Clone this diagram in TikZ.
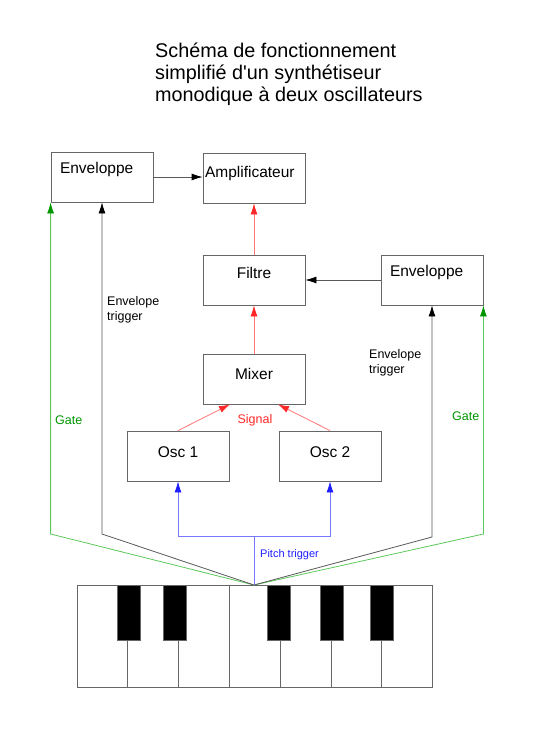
\documentclass[tikz,border=0pt]{standalone}
\usepackage{fontspec}
\setmainfont{Liberation Sans}
\usetikzlibrary{arrows.meta}
\definecolor{gatetip}{RGB}{0,150,0}
\definecolor{gateline}{RGB}{90,200,90}
\definecolor{sigtip}{RGB}{255,40,40}
\definecolor{sigline}{RGB}{255,120,120}
\definecolor{pitchtip}{RGB}{30,30,255}
\definecolor{pitchline}{RGB}{120,120,255}
\tikzset{
  bloc/.style={draw=black!60, line width=0.8pt, minimum width=102pt, minimum height=50pt,
    inner sep=2pt, font=\fontsize{15.5}{18}\selectfont, text depth=11pt},
  env/.style={bloc, text width=84pt, align=left, inner sep=9pt, text depth=18pt},
  small/.style={font=\fontsize{12.5}{15}\selectfont, align=left, inner sep=0pt},
  trig/.style={draw=black!65, line width=0.8pt, -{Latex[length=11pt,width=7pt,color=black]}},
  gate/.style={draw=gateline, line width=0.8pt, -{Latex[length=11pt,width=7pt,color=gatetip]}},
  sig/.style={draw=sigline, line width=0.8pt, -{Latex[length=11pt,width=7pt,color=sigtip]}},
  pitch/.style={draw=pitchline, line width=0.8pt},
}
\begin{document}
\begin{tikzpicture}[x=1pt,y=-1pt]
\useasboundingbox (0,0) rectangle (534,756);
% titre
\node (titre) [anchor=north west, align=left, inner sep=0pt,
  font=\fontsize{19.8}{22}\selectfont] at (155,43)
  {Schéma de fonctionnement\\simplifié d\textquotesingle un synthétiseur\\monodique à deux oscillateurs};

% blocs
\node (envL)   [env]  at (102,177) {Enveloppe};
\node (ampli)  [bloc, text width=98pt, align=left, text depth=12pt] at (254,178) {Amplificateur};
\node (filtre) [bloc, text depth=15pt] at (254,280) {Filtre};
\node (envR)   [env]  at (432,280) {Enveloppe};
\node (mixer)  [bloc] at (254,379) {Mixer};
\node (osc1)   [bloc, text depth=8pt] at (178,456) {Osc 1};
\node (osc2)   [bloc, text depth=8pt] at (330,456) {Osc 2};

% signal
\draw[trig] (envL.east) -- (ampli.west |- envL.east);
\draw[trig] (envR) -- (filtre);
\draw[sig] (filtre) -- (ampli);
\draw[sig] (mixer) -- (filtre);
\draw[sig] (osc1.north) -- ([xshift=-24pt]mixer.south);
\draw[sig] (osc2.north) -- ([xshift=24pt]mixer.south);
\node (signal) [small, text=sigtip] at (255,420) {Signal};

% clavier
\coordinate (kb) at (254,585);
\coordinate (pitchpt) at (254,536);
\draw[black!60, line width=0.8pt, fill=white] (77,585) rectangle (432,687);
\foreach \x in {127,178,229,280,331,381}
  \draw[black!60, line width=0.8pt] (\x,585) -- (\x,687);
\foreach \x in {117,163,267,320,370}
  \draw[black!60, line width=0.8pt, fill=black] (\x,585) rectangle +(23,55);

% declenchements
\draw[gate] (kb) -- (envL.south west |- 0,534) -- (envL.south west);
\draw[gate] (kb) -- (envR.south east |- 0,534) -- (envR.south east);
\draw[trig] (kb) -- (envL.south |- 0,534) -- (envL.south);
\draw[trig] (kb) -- (envR.south |- 0,537) -- (envR.south);
\draw[pitch] (kb) -- (pitchpt);
\draw[pitch, -{Latex[length=11pt,width=7pt,color=pitchtip]}] (pitchpt) -| (osc1.south);
\draw[pitch, -{Latex[length=11pt,width=7pt,color=pitchtip]}] (pitchpt) -| (osc2.south);

\node (gateL) [small, text=gatetip, anchor=west] at (55,420) {Gate};
\node (gateR) [small, text=gatetip, anchor=west] at (452,416) {Gate};
\node (trigL) [small, anchor=north west] at (107,296) {Envelope\\trigger};
\node (trigR) [small, anchor=north west] at (369,349) {Envelope\\trigger};
\node (pitchlab) [small, text=pitchtip, anchor=west, font=\fontsize{11}{13}\selectfont] at (260,555) {Pitch trigger};
\end{tikzpicture}
\end{document}
